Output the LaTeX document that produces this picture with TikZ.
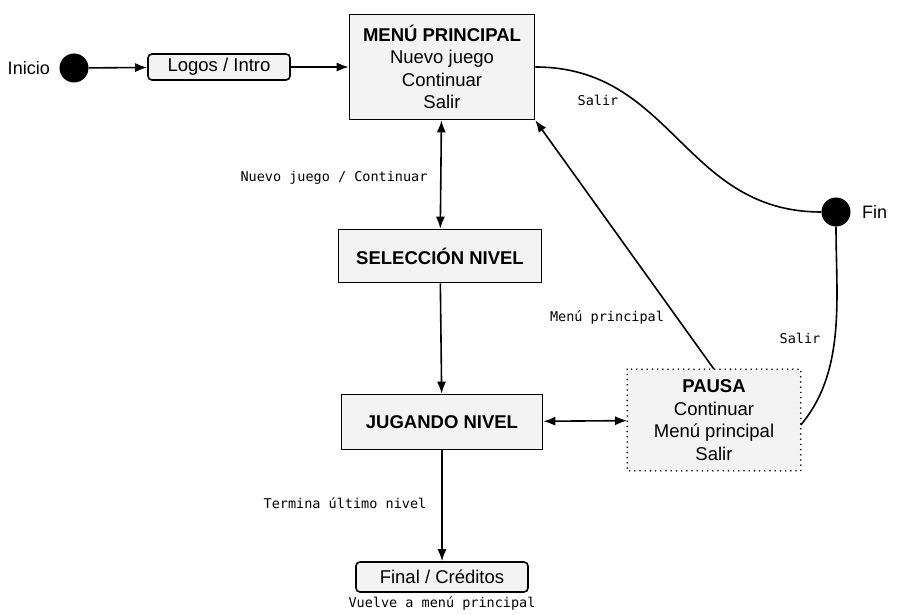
\documentclass[tikz,border=0pt]{standalone}
\usepackage{fontspec}
\setmainfont{Liberation Sans}
\setmonofont{DejaVu Sans Mono}
\usetikzlibrary{arrows.meta}

\definecolor{boxfill}{HTML}{F3F3F3}
\tikzset{
  estado/.style={draw,line width=1.6pt,fill=boxfill,align=center,font=\fontsize{18.5}{22.5}\selectfont},
  estadoredondo/.style={estado,rounded corners=4pt},
  puntoest/.style={circle,fill=black,minimum size=29pt,inner sep=0pt},
  etiqueta/.style={font=\ttfamily\fontsize{13.5}{15}\selectfont},
  flecha/.style={line width=1.6pt,-{Latex[length=12pt,width=9pt]}},
  dobleflecha/.style={line width=1.6pt,{Latex[length=12pt,width=9pt]}-{Latex[length=12pt,width=9pt]}}
}

\begin{document}
\begin{tikzpicture}[x=1pt,y=-1pt] % pixel units, y downwards
\useasboundingbox (0,0) rectangle (898,615);

% estados
\node[puntoest] (inicio) at (74,68) {};
\node[anchor=east,font=\fontsize{18}{20}\selectfont] (inicioTxt) at ([xshift=-6pt]inicio.west) {Inicio};
\node[estadoredondo,minimum width=142pt,minimum height=26pt,inner sep=2pt] (logos) at (219,67) {Logos / Intro};
\node[estado,minimum width=185pt,minimum height=105pt] (menu) at (442,67)
  {\textbf{MENÚ PRINCIPAL}\\Nuevo juego\\Continuar\\Salir};
\node[estado,minimum width=203pt,minimum height=53pt] (seleccion) at (440,256) {\textbf{SELECCIÓN NIVEL}};
\node[estado,minimum width=201pt,minimum height=55pt] (jugando) at (442,422) {\textbf{JUGANDO NIVEL}};
\node[estado,draw=none,minimum width=172pt,minimum height=100pt] (pausa) at (714,420)
  {\textbf{PAUSA}\\Continuar\\Menú principal\\Salir};
\draw[line width=1.8pt,line cap=round,dash pattern=on 0pt off 5.2pt] (pausa.north west) rectangle (pausa.south east);
\node[estadoredondo,minimum width=172pt,minimum height=30pt,inner sep=2pt] (final) at (442,577) {Final / Créditos};
\node[puntoest] (fin) at (836,212) {};
\node[anchor=west,font=\fontsize{18}{20}\selectfont] (finTxt) at ([xshift=8pt]fin.east) {Fin};

% transiciones
\draw[flecha] (inicio) -- (logos);
\draw[flecha] (logos) -- (menu);
\draw[dobleflecha] (menu) -- (seleccion);
\draw[flecha] (seleccion) -- (jugando);
\draw[dobleflecha] (jugando) -- (pausa);
\draw[flecha] (jugando) -- (final);
\draw[flecha] (pausa.north) -- (menu.south east);
\draw[line width=1.6pt] (menu.east) to[out=0,in=180,looseness=1.1] (fin.west);
\draw[line width=1.6pt] ([yshift=-5pt]pausa.east) to[out=50,in=-90,looseness=0.9] (fin.south);

% etiquetas
\node[etiqueta,anchor=east] (lblNuevo) at (431,178) {Nuevo juego / Continuar};
\node[etiqueta] (lblSalirA) at (598,100) {Salir};
\node[etiqueta] (lblMenu) at (607,318) {Menú principal};
\node[etiqueta] (lblSalirB) at (800,338) {Salir};
\node[etiqueta] (lblTermina) at (345,503) {Termina último nivel};
\node[etiqueta,below=0pt] (lblVuelve) at (final.south) {Vuelve a menú principal};

\end{tikzpicture}
\end{document}
